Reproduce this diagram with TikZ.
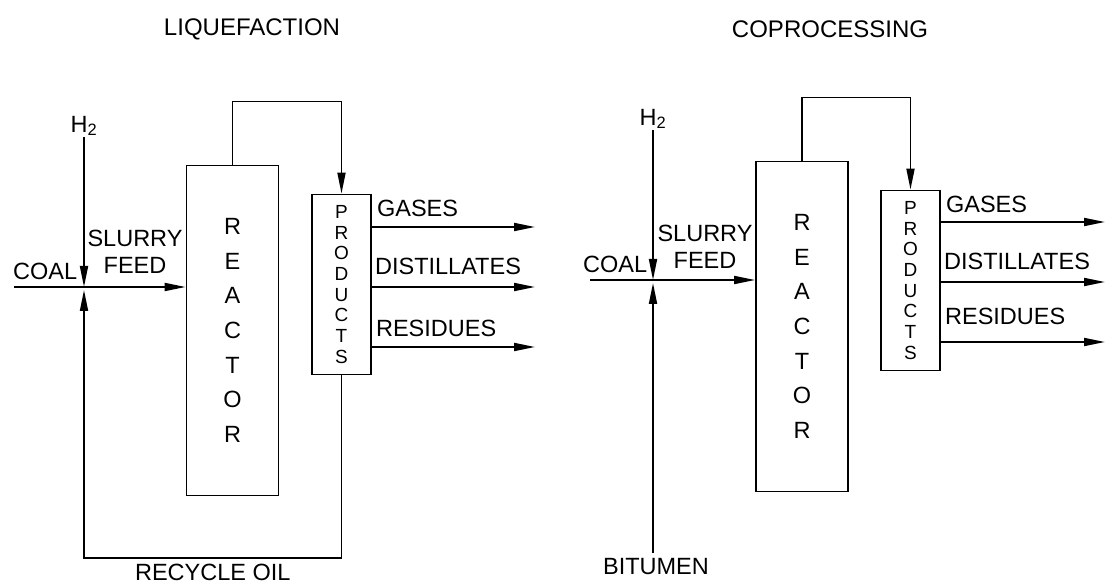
\documentclass[tikz,border=0pt]{standalone}
\usepackage{fontspec}
\setmainfont{Liberation Sans}
\usetikzlibrary{arrows.meta,positioning,calc}

\begin{document}
\begin{tikzpicture}[
    x=1pt, y=-1pt,
    >={Triangle[length=21pt,width=8pt]},
    every node/.style={font=\fontsize{23.5}{27}\selectfont},
    title/.style={font=\fontsize{24}{28}\selectfont},
    reactor/.style={draw, line width=1.8pt, minimum width=92pt,
                    minimum height=330pt, align=center, inner sep=0pt,
                    font=\fontsize{23.5}{34.7}\selectfont},
    prodbox/.style={draw, line width=1.8pt, minimum width=59pt,
                    minimum height=180pt, align=center, inner sep=0pt,
                    font=\fontsize{19}{20.7}\selectfont},
    flow/.style={->, line width=1.8pt},
    lbl/.style={inner sep=1pt},
  ]

  \useasboundingbox (0,0) rectangle (1106,585);

  % liquefaction
  \node[title] (titleL) at (252,29) {LIQUEFACTION};
  \node[reactor] (reacL) at (232.5,330.5) {R\\E\\A\\C\\T\\O\\R};
  \node[prodbox] (prodL) at (341.5,284.5) {P\\R\\O\\D\\U\\C\\T\\S};
  \coordinate (jL) at (84,287);
  \coordinate (coalL) at (14,287);
  \coordinate (recL) at (84,558);
  \node[lbl, anchor=base west] (coalLblL) at (12,280) {COAL};
  \node[lbl] (h2L) at (84,126) {H\textsubscript{2}};
  \node[lbl, align=center] (slurL) at (135,252) {SLURRY\\FEED};

  \draw[flow] (h2L.south -| jL) -- (jL);
  \draw[flow] (coalL) -- (coalL -| reacL.west);
  \draw[flow, shorten >=3pt] (prodL.south) |- (recL)
    node[pos=0.75, below=2pt] (recLbl) {RECYCLE OIL} -- (jL);
  \draw[flow] (reacL.north) -- ++(0,-63) -| (prodL.north);

  \coordinate (gasL) at (535,227);
  \coordinate (disL) at (535,287);
  \coordinate (resL) at (535,347);
  \draw[flow] (gasL -| prodL.east) -- (gasL);
  \draw[flow] (disL -| prodL.east) -- (disL);
  \draw[flow] (resL -| prodL.east) -- (resL);
  \node[lbl, anchor=base west] (gasLblL) at ($(gasL -| prodL.east)+(4,-10)$) {GASES};
  \node[lbl, anchor=base west] (disLblL) at ($(disL -| prodL.east)+(2,-12)$) {DISTILLATES};
  \node[lbl, anchor=base west] (resLblL) at ($(resL -| prodL.east)+(3,-10)$) {RESIDUES};

  % coprocessing
  \node[title] (titleR) at (830,29) {COPROCESSING};
  \node[reactor] (reacR) at (802,326.5) {R\\E\\A\\C\\T\\O\\R};
  \node[prodbox] (prodR) at (910.5,280.5) {P\\R\\O\\D\\U\\C\\T\\S};
  \coordinate (jR) at (653,280);
  \coordinate (coalR) at (590,280);
  \coordinate (bitR) at (653,553);
  \node[lbl, anchor=base west] (coalLblR) at (582,273) {COAL};
  \node[lbl] (h2R) at (653,119) {H\textsubscript{2}};
  \node[lbl, align=center] (slurR) at (705,247) {SLURRY\\FEED};
  \node[lbl, anchor=north] (bitLbl) at (656,557) {BITUMEN};

  \draw[flow] (h2R.south -| jR) -- (jR);
  \draw[flow] (coalR) -- (coalR -| reacR.west);
  \draw[flow, shorten >=3pt] (bitR) -- (jR);
  \draw[flow] (reacR.north) -- ++(0,-63) -| (prodR.north);

  \coordinate (gasR) at (1105,222);
  \coordinate (disR) at (1105,282);
  \coordinate (resR) at (1105,342);
  \draw[flow] (gasR -| prodR.east) -- (gasR);
  \draw[flow] (disR -| prodR.east) -- (disR);
  \draw[flow] (resR -| prodR.east) -- (resR);
  \node[lbl, anchor=base west] (gasLblR) at ($(gasR -| prodR.east)+(4,-9)$) {GASES};
  \node[lbl, anchor=base west] (disLblR) at ($(disR -| prodR.east)+(2,-12)$) {DISTILLATES};
  \node[lbl, anchor=base west] (resLblR) at ($(resR -| prodR.east)+(3,-17)$) {RESIDUES};

\end{tikzpicture}
\end{document}
